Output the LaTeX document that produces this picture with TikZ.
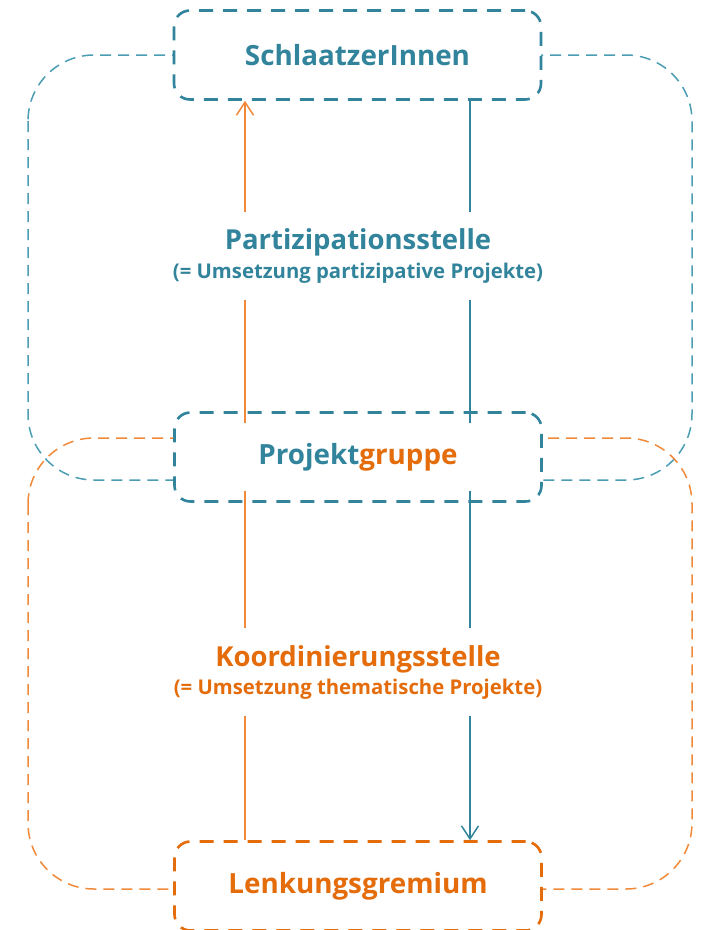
\documentclass[tikz,border=0pt]{standalone}
\usepackage{fontspec}
\setmainfont{Open Sans}
\usetikzlibrary{arrows.meta}
\definecolor{tealD}{HTML}{31849B}
\definecolor{tealL}{HTML}{4A9DB3}
\definecolor{oraD}{HTML}{E46C0A}
\definecolor{oraL}{HTML}{F08A3A}
\newcommand\myttlfont{\bfseries\fontsize{27.5}{31}\selectfont}
\newcommand\mysubfont{\bfseries\fontsize{20.3}{24}\selectfont}
\tikzset{
  box/.style={draw=#1, line width=2.6pt, dash pattern=on 14pt off 10pt, rounded corners=16pt,
    fill=white, minimum width=367pt, minimum height=89pt, inner sep=0pt,
    font=\bfseries\fontsize{27.8}{31}\selectfont},
  bigloop/.style={draw=#1, line width=1.5pt, dash pattern=on 11pt off 7pt, rounded corners=66pt},
  conn/.style={draw=#1, line width=1.5pt},
  arr/.style={-{Straight Barb[length=13pt,width=17pt,line width=1.5pt]}},
  lbl/.style={fill=white, text=#1, align=center, inner sep=0pt, minimum height=88pt, minimum width=390pt}
}
\begin{document}
\begin{tikzpicture}[x=1pt,y=-1pt]
\useasboundingbox (0,0) rectangle (702,930);
% big loops
\draw[bigloop=tealL] (28,55) rectangle (692,480);
\draw[bigloop=oraL] (28,438) rectangle (692,889);
% boxes
\node[box=tealD, text=tealD] (S) at (357.5,55) {SchlaatzerInnen};
\node[box=tealD] (P) at (358,457) {\textcolor{tealD}{Projekt}\textcolor{oraD}{gruppe}};
\node[box=oraD, text=oraD] (L) at (358,886) {Lenkungsgremium};
\coordinate (ax) at (245,0);
\coordinate (bx) at (470,0);
% connectors
\draw[conn=oraL, arr, shorten <=-12pt] (P.north -| ax) -- (S.south -| ax);
\draw[conn=tealD, shorten >=-12pt] (S.south -| bx) -- (P.north -| bx);
\draw[conn=oraL, shorten >=-12pt] (L.north -| ax) -- (P.south -| ax);
\draw[conn=tealD, arr, shorten <=-12pt] (P.south -| bx) -- (L.north -| bx);
% labels
\node[lbl=tealD] (ps) at (358,256) {{\myttlfont Partizipationsstelle}\\[5pt]{\mysubfont (= Umsetzung partizipative Projekte)}};
\node[lbl=oraD] (ks) at (358,672) {{\myttlfont Koordinierungsstelle}\\[5pt]{\mysubfont (= Umsetzung thematische Projekte)}};
\end{tikzpicture}
\end{document}
